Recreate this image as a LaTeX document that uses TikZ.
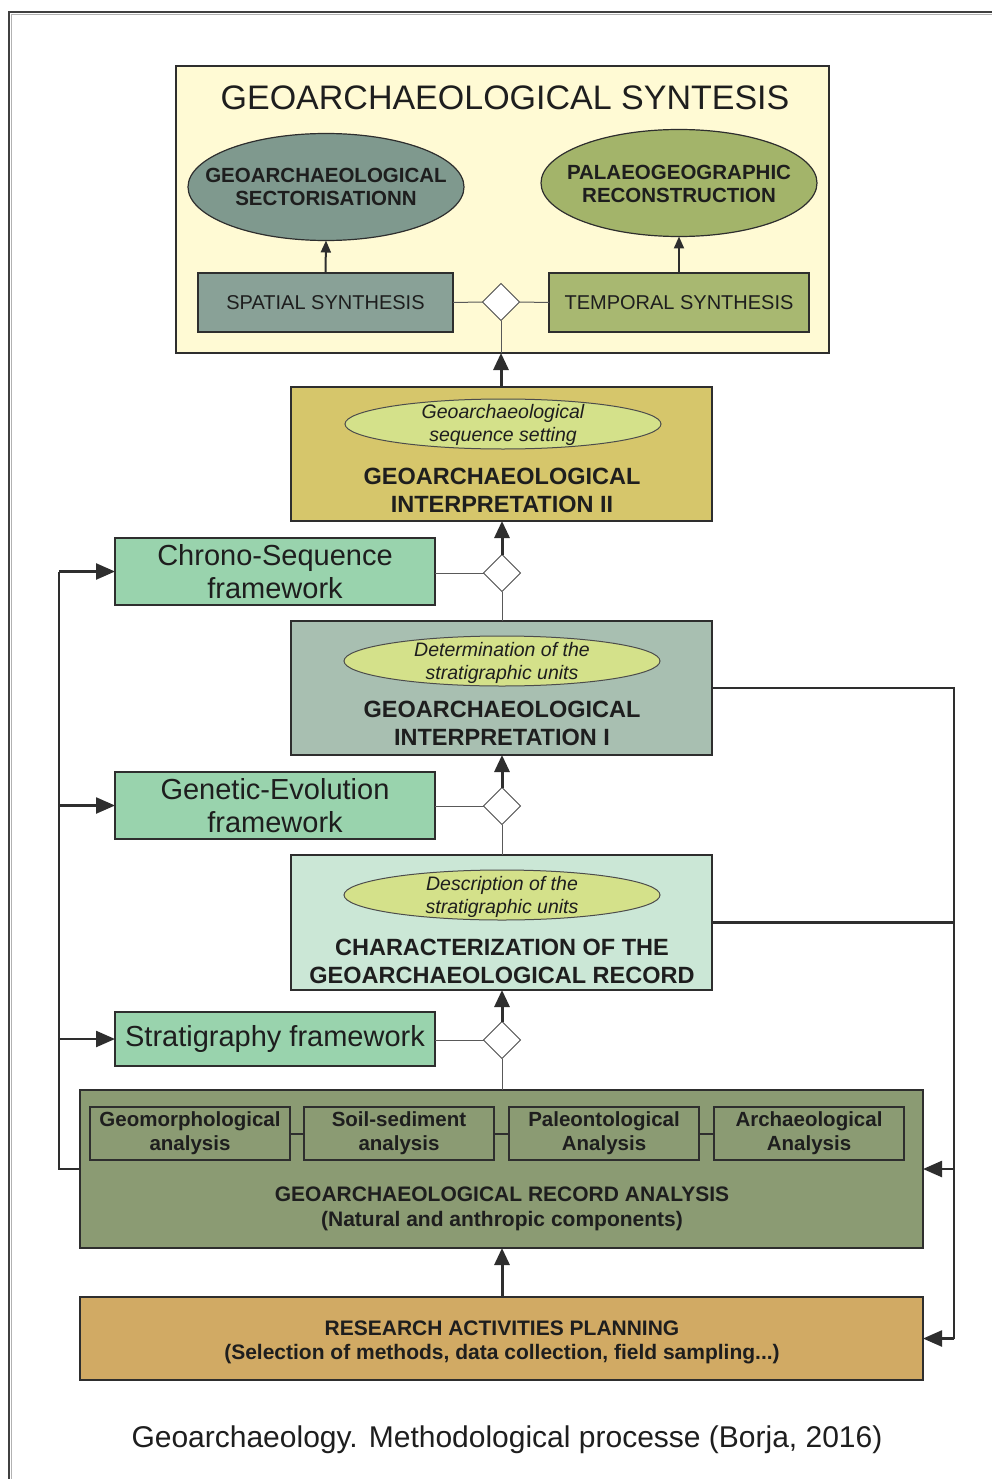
\documentclass[tikz,border=0pt]{standalone}
\usepackage{fontspec}
\setmainfont{Liberation Sans}
\usetikzlibrary{shapes.geometric,arrows.meta}
\definecolor{lc}{HTML}{2E2E2E}
\definecolor{synthbg}{HTML}{FFFAD4}
\definecolor{ellL}{HTML}{7F998E}
\definecolor{ellR}{HTML}{A3B46A}
\definecolor{intII}{HTML}{D6C66B}
\definecolor{inner}{HTML}{D4E18A}
\definecolor{frame}{HTML}{99D3AD}
\definecolor{intI}{HTML}{A8BFB1}
\definecolor{charc}{HTML}{CBE7D6}
\definecolor{rec}{HTML}{8B9B73}
\definecolor{research}{HTML}{D1AA64}
\definecolor{txt}{HTML}{1E1E1E}
\begin{document}
\begin{tikzpicture}[x=1pt,y=-1pt,
  every node/.style={inner sep=0pt, outer sep=0pt, text=txt},
  box/.style={draw=lc, line width=1.4pt},
  ellbox/.style={ellipse, draw=lc, line width=1.2pt},
  inell/.style={ellipse, draw=black!70, line width=1pt, fill=inner, minimum width=316, minimum height=50},
  dia/.style={diamond, draw=black!70, line width=1pt, fill=white, minimum width=37, minimum height=37, aspect=1},
  thinln/.style={draw=black!65, line width=1pt},
  upthick/.style={draw=lc, line width=3pt, -{Triangle[length=17pt,width=15pt]}},
  fb/.style={draw=lc, line width=2.4pt},
  fba/.style={fb, -{Triangle[length=19pt,width=16pt]}},
  smallarr/.style={draw=lc, line width=2pt, -{Triangle[length=12pt,width=10pt]}},
  title/.style={font=\fontsize{34}{40}\selectfont},
  ellfont/.style={font=\bfseries\fontsize{20.5}{23.5}\selectfont, align=center},
  synfont/.style={font=\fontsize{20}{24}\selectfont},
  itfont/.style={font=\itshape\fontsize{19.5}{23}\selectfont, align=center},
  intfont/.style={font=\bfseries\fontsize{23.5}{28}\selectfont, align=center},
  frfont/.style={font=\fontsize{29}{33}\selectfont, align=center},
  subfont/.style={font=\bfseries\fontsize{20.5}{24}\selectfont, align=center},
  recfont/.style={font=\bfseries\fontsize{21}{24.5}\selectfont, align=center},
  capfont/.style={font=\fontsize{30}{36}\selectfont}
]
\useasboundingbox (0,0) rectangle (991,1479);
\fill[white] (0,0) rectangle (991,1479);
% outer frame (cropped)
\draw[line width=2.5pt, draw=black!75] (9,1485) -- (9,12) -- (995,12);
\draw[line width=0.8pt, draw=black!30] (11.5,1485) -- (11.5,14.5) -- (995,14.5);

% synthesis block
\node[box, fill=synthbg, minimum width=653, minimum height=287] (synth) at (502.5,209.5) {};
\node[title] (synthtitle) at (505,98) {GEOARCHAEOLOGICAL SYNTESIS};
\node[ellbox, fill=ellL, minimum width=276, minimum height=107] (ellL) at (326,187) {};
\node[ellfont] (ellLt) at (326,187) {GEOARCHAEOLOGICAL\\SECTORISATIONN};
\node[ellbox, fill=ellR, minimum width=276, minimum height=107] (ellR) at (679,183) {};
\node[ellfont] (ellRt) at (679,184) {PALAEOGEOGRAPHIC\\RECONSTRUCTION};
\node[box, fill=ellL!92!white, minimum width=255, minimum height=59, synfont] (spatial) at (325.5,302.5) {SPATIAL SYNTHESIS};
\node[box, fill=ellR!95!white, minimum width=260, minimum height=59, synfont] (temporal) at (679,302.5) {TEMPORAL SYNTHESIS};
\node[dia] (d1) at (501,302) {};
\draw[smallarr] (spatial.north) -- (ellL.south);
\draw[smallarr] (temporal.north) -- (ellR.south);
\draw[thinln] (spatial.east) -- (d1.west);
\draw[thinln] (d1.east) -- (temporal.west);
\draw[thinln] (d1.south) -- (d1 |- synth.south);

% interpretation II
\node[box, fill=intII, minimum width=421, minimum height=134] (int2) at (501.5,454) {};
\node[inell] (e2) at (503,424) {};
\node[itfont] (e2t) at (503,425) {Geoarchaeological\\sequence setting};
\node[intfont] (int2t) at (502,490) {GEOARCHAEOLOGICAL\\INTERPRETATION II};
\draw[upthick] (int2.north -| d1) -- (synth.south -| d1);

% chrono
\node[box, fill=frame, minimum width=320, minimum height=67, frfont] (chrono) at (275,571.5) {Chrono-Sequence\\framework};
\node[dia] (d2) at (502,573) {};
\draw[thinln] (chrono.east |- d2) -- (d2.west);
\draw[upthick] (d2.north) -- (d2 |- int2.south);

% interpretation I
\node[box, fill=intI, minimum width=421, minimum height=134] (int1) at (501.5,688) {};
\node[inell] (e1) at (502,661) {};
\node[itfont] (e1t) at (502,662.5) {Determination of the\\stratigraphic units};
\node[intfont] (int1t) at (502,723) {GEOARCHAEOLOGICAL\\INTERPRETATION I};
\draw[thinln] (d2.south) -- (d2 |- int1.north);

% genetic
\node[box, fill=frame, minimum width=320, minimum height=67, frfont] (genetic) at (275,805.5) {Genetic-Evolution\\framework};
\node[dia] (d3) at (502,806) {};
\draw[thinln] (genetic.east |- d3) -- (d3.west);
\draw[upthick] (d3.north) -- (d3 |- int1.south);

% characterization
\node[box, fill=charc, minimum width=421, minimum height=135] (char) at (501.5,922.5) {};
\node[inell] (e0) at (502,895) {};
\node[itfont] (e0t) at (502,897) {Description of the\\stratigraphic units};
\node[intfont] (chart) at (502,961) {CHARACTERIZATION OF THE\\GEOARCHAEOLOGICAL RECORD};
\draw[thinln] (d3.south) -- (d3 |- char.north);

% stratigraphy
\node[box, fill=frame, minimum width=320, minimum height=54, frfont] (strat) at (275,1039) {Stratigraphy framework};
\node[dia] (d4) at (502,1040) {};
\draw[thinln] (strat.east |- d4) -- (d4.west);
\draw[upthick] (d4.north) -- (d4 |- char.south);

% record analysis
\node[box, fill=rec, minimum width=843, minimum height=158] (rec) at (501.5,1169) {};
\node[box, fill=rec, minimum width=200, minimum height=53, subfont] (sb1) at (190,1133.5) {Geomorphological\\analysis};
\node[box, fill=rec, minimum width=190, minimum height=53, subfont] (sb2) at (399,1133.5) {Soil-sediment\\analysis};
\node[box, fill=rec, minimum width=190, minimum height=53, subfont] (sb3) at (604,1133.5) {Paleontological\\Analysis};
\node[box, fill=rec, minimum width=190, minimum height=53, subfont] (sb4) at (809,1133.5) {Archaeological\\Analysis};
\draw[fb, line width=2pt] (sb1.east) -- (sb2.west);
\draw[fb, line width=2pt] (sb2.east) -- (sb3.west);
\draw[fb, line width=2pt] (sb3.east) -- (sb4.west);
\node[recfont] (rect) at (502,1209) {GEOARCHAEOLOGICAL RECORD ANALYSIS\\(Natural and anthropic components)};
\draw[thinln] (d4.south) -- (d4 |- rec.north);

% research planning
\node[box, fill=research, minimum width=843, minimum height=83] (res) at (501.5,1338.5) {};
\node[recfont] (rest) at (502,1342.5) {RESEARCH ACTIVITIES PLANNING\\(Selection of methods, data collection, field sampling...)};
\draw[upthick] (res.north -| d4) -- (rec.south -| d4);

% left feedback
\coordinate (lx) at (59,0);
\draw[fb] (rec.west) -- (lx |- rec.west) -- (lx |- chrono.west);
\draw[fba] (lx |- chrono.west) -- (chrono.west);
\draw[fba] (lx |- genetic.west) -- (genetic.west);
\draw[fba] (lx |- strat.west) -- (strat.west);

% right feedback
\coordinate (rx) at (954,0);
\draw[fb] (int1.east) -- (rx |- int1.east) -- (rx |- res.east);
\draw[fb] (char.east) -- (rx |- char.east);
\draw[fba] (rx |- rec.east) -- (rec.east);
\draw[fba] (rx |- res.east) -- (res.east);

% caption
\node[capfont] (caption) at (507,1440) {Geoarchaeology. Methodological processe (Borja, 2016)};
\end{tikzpicture}
\end{document}
